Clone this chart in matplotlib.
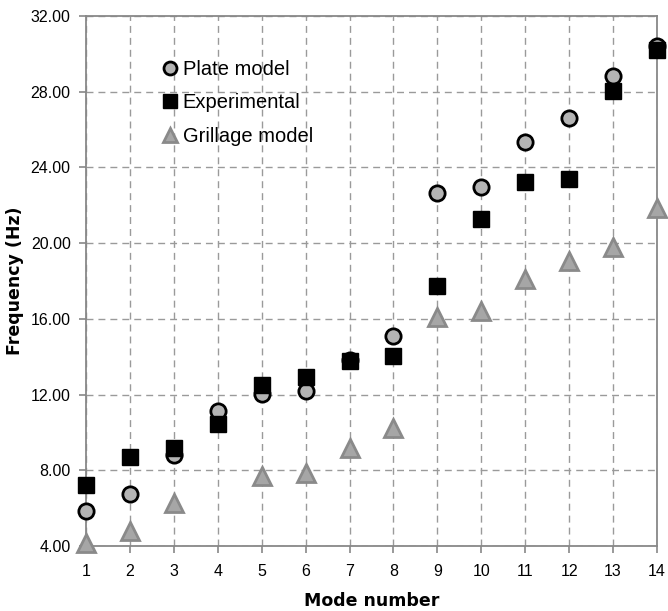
import numpy as np
import matplotlib.pyplot as plt

modes = list(range(1, 15))
plate = [5.85, 6.73, 8.80, 11.12, 12.05, 12.20, 13.80, 15.08, 22.64, 22.99, 25.33, 26.61, 28.85, 30.43]
experimental = [7.22, 8.71, 9.20, 10.43, 12.52, 12.95, 13.76, 14.06, 17.74, 21.28, 23.22, 23.38, 28.05, 30.20]
# no triangle visible at mode 4
grillage = [4.14, 4.79, 6.25, np.nan, 7.69, 7.86, 9.19, 10.24, 16.12, 16.40, 18.10, 19.07, 19.79, 21.85]

yticks = [4, 8, 12, 16, 20, 24, 28, 32]

fig = plt.figure(figsize=(6.68, 6.11), dpi=100)
ax = fig.add_axes([86/668, 1 - 546/611, (657 - 86)/668, (546 - 16)/611])

ax.plot(modes, plate, 'o', ms=11, mfc='#b4b4b4', mec='black', mew=2,
        label='Plate model', clip_on=False, zorder=3)
ax.plot(modes, experimental, 's', ms=11.5, mfc='black', mec='black',
        label='Experimental', clip_on=False, zorder=4)
ax.plot(modes, grillage, '^', ms=12.5, mfc='#a6a6a6', mec='#8a8a8a', mew=2,
        label='Grillage model', clip_on=False, zorder=3)

ax.set_xlim(1, 14)
ax.set_ylim(4, 32)
ax.set_xticks(modes)
ax.set_yticks(yticks)
ax.set_yticklabels(['%.2f' % v for v in yticks])

ax.grid(True, ls=(0, (5, 3.6)), color='#9a9a9a', lw=1)
ax.set_axisbelow(True)
for s in ax.spines.values():
    s.set_color('#888888')
    s.set_linewidth(1.3)
ax.tick_params(colors='#888888', labelcolor='black', length=5, width=1.2,
               labelsize=11.5)
ax.tick_params(axis='y', pad=6)
ax.tick_params(axis='x', pad=8)
for lab in ax.get_xticklabels() + ax.get_yticklabels():
    lab.set_family('Liberation Sans')

ax.set_xlabel('Mode number', fontsize=12.5, fontweight='bold')
ax.set_ylabel('Frequency (Hz)', fontsize=12.5, fontweight='bold')
ax.xaxis.set_label_coords(0.5, -0.087)
ax.yaxis.set_label_coords(-0.109, 0.5)

ax.legend(loc='upper left', bbox_to_anchor=(0.116, 0.933), frameon=False,
          prop={'family': 'Liberation Sans', 'size': 14.5},
          handletextpad=0.12, labelspacing=0.72, handlelength=1.0,
          markerscale=0.85, borderaxespad=0)

fig.savefig('out.png', dpi=100)
